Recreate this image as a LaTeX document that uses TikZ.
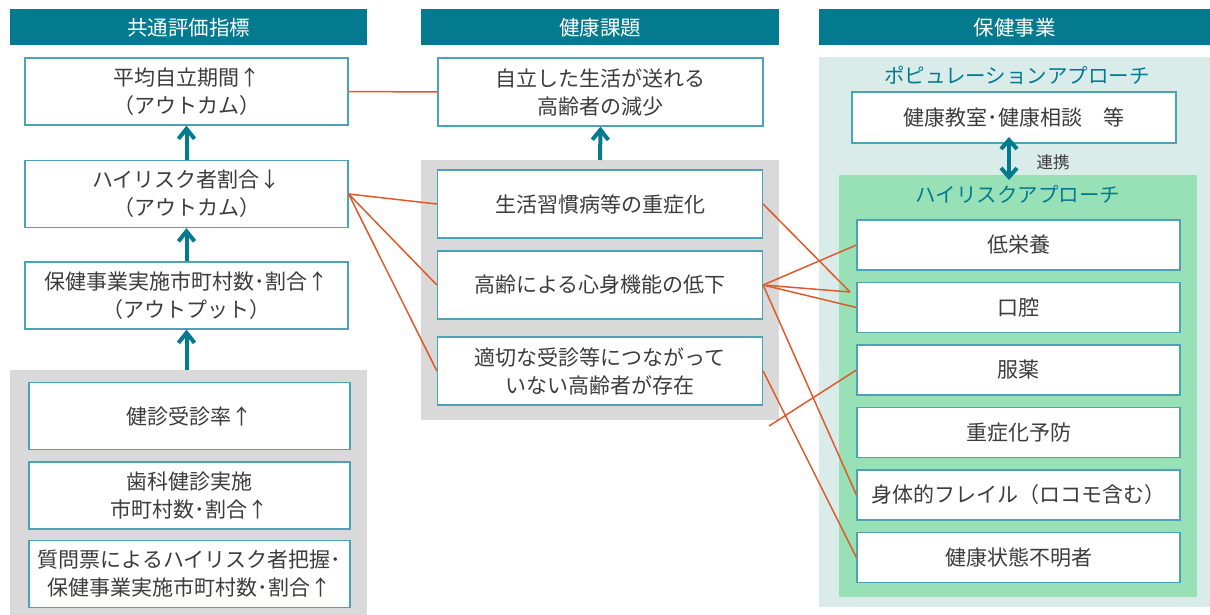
\documentclass[tikz,border=0pt]{standalone}
\usepackage{fontspec}
\setmainfont{Noto Sans CJK JP}
\usepackage{tikz}
\usetikzlibrary{calc,arrows.meta}

\definecolor{headteal}{RGB}{4,122,142}
\definecolor{boxteal}{RGB}{75,163,181}
\definecolor{graybg}{RGB}{217,217,217}
\definecolor{mintbg}{RGB}{218,236,234}
\definecolor{greenbg}{RGB}{152,225,182}
\definecolor{linkorange}{RGB}{223,90,43}
\definecolor{textgray}{RGB}{60,60,60}

\begin{document}
\begin{tikzpicture}[x=1pt,y=-1pt,
		head/.style={fill=headteal,text=white,inner sep=0pt,minimum height=36pt,font=\fontsize{20.5}{24}\selectfont},
		kbox/.style={draw=boxteal,line width=1.2pt,fill=white,text=textgray,inner sep=0pt,align=center,font=\fontsize{21}{28}\selectfont},
		lbox/.style={kbox,minimum width=323pt,minimum height=67pt},
		mbox/.style={kbox,minimum width=325pt,minimum height=68pt},
		rbox/.style={kbox,minimum width=323pt,minimum height=50pt},
		apptitle/.style={text=headteal,font=\fontsize{20.5}{24}\selectfont},
		link/.style={draw=linkorange,line width=1.5pt},
		uparrow/.style={draw=headteal,line width=4pt,-{Straight Barb[length=10pt,width=16pt]}},
		twoway/.style={draw=headteal,line width=4pt,{Straight Barb[length=9pt,width=16pt]}-{Straight Barb[length=9pt,width=16pt]}}]
						\useasboundingbox (0,0) rectangle (1210,615);
						\node[head,minimum width=357pt] (hdl) at (188.5,27.5){共通評価指標};
						\node[head,minimum width=358pt] (hdm) at (600,27.5){健康課題};
						\node[head,minimum width=391pt] (hdr) at (1014.5,27.5){保健事業};
						\fill[graybg] (10,370) rectangle (367,615);
						\fill[graybg] (421,160) rectangle (779,420);
						\fill[mintbg] (819,57) rectangle (1210,607);
						\fill[greenbg] (839,175) rectangle (1197,597);
						\node[lbox] (avg) at (186.5,91.5){平均自立期間↑\\（アウトカム）};
						\node[lbox] (risk) at (186.5,194){ハイリスク者割合↓\\（アウトカム）};
						\node[lbox] (outp) at (186.5,295.5){保健事業実施市町村数･割合↑\\（アウトプット）};
						\node[lbox,minimum width=321pt] (exam) at (189.5,416){健診受診率↑};
						\node[lbox,minimum width=321pt] (dent) at (189.5,495.5){歯科健診実施\\市町村数･割合↑};
						\node[lbox,minimum width=321pt] (ques) at (189.5,574){質問票によるハイリスク者把握･\\保健事業実施市町村数･割合↑};
						\node[mbox] (goal) at (600.5,92){自立した生活が送れる\\高齢者の減少};
						\node[mbox] (lsd) at (600,204){生活習慣病等の重症化};
						\node[mbox] (frail) at (600,285){高齢による心身機能の低下};
						\node[mbox] (unmet) at (600,371){適切な受診等につながって\\いない高齢者が存在};
						\node[apptitle] (poptl) at (1017,75){ポピュレーションアプローチ};
						\node[kbox,minimum width=324pt,minimum height=51pt] (pop) at (1014,117.5){健康教室･健康相談　等};
						\node[text=textgray,font=\fontsize{16.5}{20}\selectfont] (coop) at (1053,162){連携};
						\node[apptitle] (hrtl) at (1018,194){ハイリスクアプローチ};
						\node[rbox] (nutr) at (1018.5,245){低栄養};
						\node[rbox] (oral) at (1018.5,307.5){口腔};
						\node[rbox] (med) at (1018.5,370){服薬};
						\node[rbox] (sev) at (1018.5,432.5){重症化予防};
						\node[rbox] (phys) at (1018.5,495){身体的フレイル（ロコモ含む）};
						\node[rbox] (unk) at (1018.5,557.5){健康状態不明者};
						\coordinate (lgray) at (186.5,370);
						\coordinate (mgray) at (600,160);
						\coordinate (popb) at (1009,137);
						\coordinate (hrtop) at (1009,180);
						\coordinate (meet) at (850,292);
						\coordinate (loose) at (769,426);
						\draw[uparrow] (risk.north) -- (avg.south);
						\draw[uparrow] (outp.north) -- (risk.south);
						\draw[uparrow] (lgray) -- (outp.south);
						\draw[uparrow] (mgray) -- (goal.south);
						\draw[twoway] (hrtop) -- (popb);
						\draw[link] (avg.east) -- (goal.west);
						\draw[link] (risk.east) -- (lsd.west);
						\draw[link] (risk.east) -- (frail.west);
						\draw[link] (risk.east) -- (unmet.west);
						\draw[link] (lsd.east) -- (meet);
						\draw[link] (frail.east) -- (meet);
						\draw[link] (frail.east) -- (nutr.west);
						\draw[link] (frail.east) -- (oral.west);
						\draw[link] (frail.east) -- (phys.west);
						\draw[link] (unmet.east) -- (unk.west);
						\draw[link] (loose) -- (med.west);
					\end{tikzpicture}
\end{document}
